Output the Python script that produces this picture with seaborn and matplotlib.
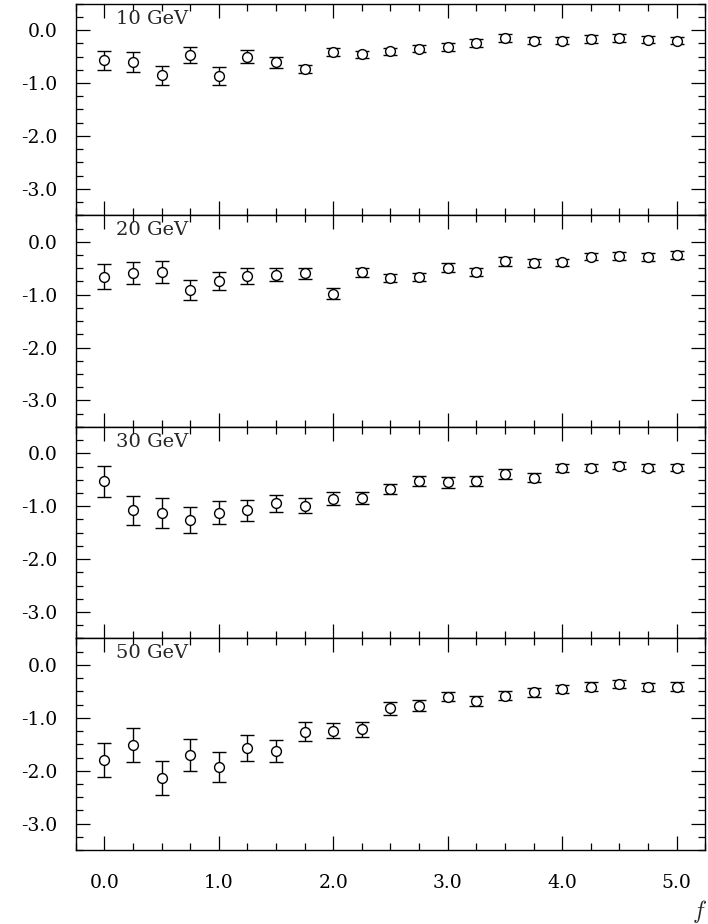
import numpy as np
import pandas as pd
import seaborn as sns
import matplotlib
matplotlib.use("Agg")
import matplotlib.pyplot as plt
from matplotlib.ticker import MultipleLocator, FuncFormatter

f_vals = [0.0, 0.25, 0.5, 0.75, 1.0, 1.25, 1.5, 1.75, 2.0, 2.25, 2.5,
          2.75, 3.0, 3.25, 3.5, 3.75, 4.0, 4.25, 4.5, 4.75, 5.0]

panels = ["10 GeV", "20 GeV", "30 GeV", "50 GeV"]

y_10 = [-0.57, -0.60, -0.85, -0.47, -0.87, -0.50, -0.61, -0.73, -0.41, -0.46, -0.40,
        -0.35, -0.32, -0.24, -0.15, -0.20, -0.20, -0.17, -0.15, -0.18, -0.20]
e_10 = [0.18, 0.19, 0.18, 0.16, 0.165, 0.13, 0.11, 0.08, 0.07, 0.07, 0.07,
        0.07, 0.07, 0.07, 0.07, 0.07, 0.07, 0.07, 0.07, 0.07, 0.07]

y_20 = [-0.66, -0.59, -0.57, -0.92, -0.74, -0.65, -0.62, -0.60, -0.98, -0.58, -0.69,
        -0.67, -0.49, -0.57, -0.37, -0.40, -0.39, -0.28, -0.27, -0.29, -0.25]
e_20 = [0.23, 0.21, 0.21, 0.19, 0.17, 0.15, 0.13, 0.11, 0.10, 0.08, 0.08,
        0.08, 0.08, 0.08, 0.08, 0.07, 0.07, 0.07, 0.07, 0.07, 0.07]

y_30 = [-0.53, -1.08, -1.13, -1.26, -1.12, -1.08, -0.94, -0.99, -0.86, -0.85, -0.67,
        -0.52, -0.55, -0.52, -0.39, -0.46, -0.28, -0.27, -0.23, -0.27, -0.27]
e_30 = [0.30, 0.28, 0.28, 0.25, 0.22, 0.19, 0.16, 0.14, 0.12, 0.11, 0.09,
        0.09, 0.10, 0.09, 0.09, 0.08, 0.08, 0.07, 0.07, 0.07, 0.07]

y_50 = [-1.80, -1.51, -2.13, -1.70, -1.93, -1.57, -1.63, -1.26, -1.24, -1.22, -0.82,
        -0.77, -0.60, -0.68, -0.58, -0.52, -0.46, -0.41, -0.36, -0.42, -0.41]
e_50 = [0.32, 0.32, 0.32, 0.30, 0.28, 0.25, 0.21, 0.18, 0.15, 0.135, 0.12,
        0.11, 0.09, 0.09, 0.08, 0.08, 0.08, 0.08, 0.08, 0.08, 0.08]

ys = [y_10, y_20, y_30, y_50]
es = [e_10, e_20, e_30, e_50]

sns.set_theme(style="ticks")
plt.rcParams['font.family'] = ['DejaVu Serif']
plt.rcParams['mathtext.fontset'] = 'cm'

fig, axes = plt.subplots(4, 1, figsize=(7.08, 9.24), dpi=100, sharex=True)
fig.subplots_adjust(left=0.107, right=0.996, top=0.996, bottom=0.080, hspace=0)

fmt = FuncFormatter(lambda v, p: "%.1f" % v)

for ax, name, y, e in zip(axes, panels, ys, es):
    df = pd.DataFrame({"f": f_vals, "y": y, "err": e})
    ax.errorbar(df["f"], df["y"], yerr=df["err"], fmt="none", ecolor="black",
                elinewidth=1.0, capsize=5, capthick=1.0, zorder=2)
    sns.scatterplot(data=df, x="f", y="y", ax=ax, marker="o", s=50,
                    facecolor="white", edgecolor="black", linewidth=1.0, zorder=3)
    ax.set_xlim(-0.25, 5.25)
    ax.set_ylim(-3.5, 0.5)
    ax.xaxis.set_major_locator(MultipleLocator(1.0))
    ax.xaxis.set_minor_locator(MultipleLocator(0.25))
    ax.yaxis.set_major_locator(MultipleLocator(1.0))
    ax.yaxis.set_minor_locator(MultipleLocator(0.25))
    ax.yaxis.set_major_formatter(fmt)
    ax.xaxis.set_major_formatter(fmt)
    ax.tick_params(which="both", direction="in", top=True, right=True,
                   colors="black", width=0.9, labelsize=13.5)
    ax.tick_params(which="major", length=10)
    ax.tick_params(which="minor", length=5)
    ax.tick_params(axis="y", pad=13)
    ax.tick_params(axis="x", pad=17)
    ax.set_xlabel("")
    ax.set_ylabel("")
    for sp in ax.spines.values():
        sp.set_color("black")
        sp.set_linewidth(1.0)
    ax.text(0.064, 0.93, name, transform=ax.transAxes, fontsize=14,
            ha="left", va="center")

fig.text(0.988, 0.013, "$f$", fontsize=17, ha="center", va="center")

fig.savefig("out.png", dpi=100)
